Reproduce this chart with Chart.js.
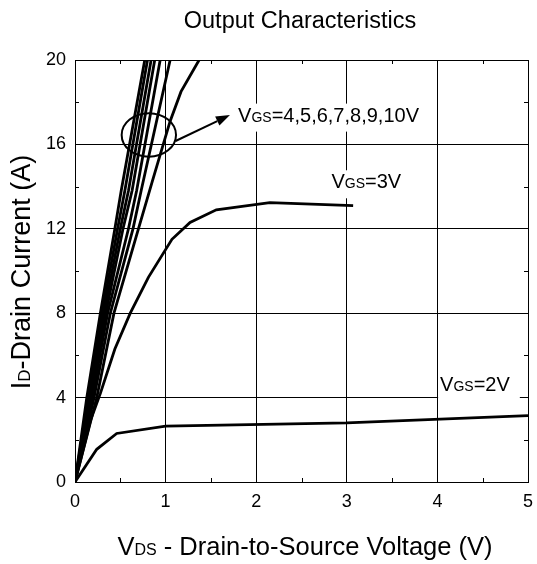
<!DOCTYPE html>
<html><head><meta charset="utf-8">
<script src="https://cdn.jsdelivr.net/npm/chart.js@4"></script>
<style>html,body{margin:0;padding:0;background:#fff}canvas{display:block}</style>
</head><body>
<canvas id="c" width="537" height="564"></canvas>
<script>
// ---- data ----
const xTickValues = [0, 1, 2, 3, 4, 5];
const yTickValues = [0, 4, 8, 12, 16, 20];
const minorX = [0.5, 1.5, 2.5, 3.5, 4.5];
const minorY = [2, 6, 10, 14, 18];

const vds2V = [0, 0.24, 0.46, 1.0, 3.0, 5.0];
const id2V  = [0, 1.55, 2.3, 2.65, 2.8, 3.15];

const vds3V = [0, 0.17, 0.28, 0.44, 0.61, 0.81, 1.07, 1.27, 1.56, 2.15, 3.07];
const id3V  = [0, 2.9, 4.2, 6.3, 8.0, 9.7, 11.5, 12.3, 12.9, 13.24, 13.1];

const vds4V = [0, 0.24, 0.43, 0.70, 0.85, 1.05, 1.17, 1.37];
const id4V  = [0, 4, 8, 12, 14.2, 17.1, 18.5, 20];
const vds5V = [0, 0.21, 0.39, 0.64, 0.73, 1.05];
const id5V  = [0, 4, 8, 12, 13.8, 20];
const vds6V = [0, 0.19, 0.36, 0.59, 0.68, 0.94];
const id6V  = [0, 4, 8, 12, 13.8, 20];
const vds7V = [0, 0.17, 0.34, 0.53, 0.63, 0.88];
const id7V  = [0, 4, 8, 12, 13.8, 20];
const vds8V = [0, 0.16, 0.32, 0.50, 0.59, 0.84];
const id8V  = [0, 4, 8, 12, 13.8, 20];
const vds9V = [0, 0.145, 0.30, 0.47, 0.55, 0.80];
const id9V  = [0, 4, 8, 12, 13.8, 20];
const vds10V = [0, 0.13, 0.28, 0.44, 0.51, 0.77];
const id10V  = [0, 4, 8, 12, 13.8, 20];

const seriesNames = ['VGS=2V','VGS=3V','VGS=4V','VGS=5V','VGS=6V','VGS=7V','VGS=8V','VGS=9V','VGS=10V'];
const seriesX = [vds2V, vds3V, vds4V, vds5V, vds6V, vds7V, vds8V, vds9V, vds10V];
const seriesY = [id2V, id3V, id4V, id5V, id6V, id7V, id8V, id9V, id10V];

const FONT = "'Liberation Sans', Arial, Helvetica, sans-serif";
Chart.defaults.font.family = FONT;
Chart.defaults.color = '#000';

function pts(xs, ys){ return xs.map((v,i)=>({x:v, y:ys[i]})); }

// draw text made of [text, size] runs on a common baseline
function runsWidth(ctx, runs){
  let w = 0;
  for (const [t,s] of runs){ ctx.font = s + 'px ' + FONT; w += ctx.measureText(t).width; }
  return w;
}
function drawRuns(ctx, runs, x, y){
  ctx.textBaseline = 'alphabetic'; ctx.textAlign = 'left';
  for (const [t,s] of runs){ ctx.font = s + 'px ' + FONT; ctx.fillText(t, x, y); x += ctx.measureText(t).width; }
}

const decor = {
  id: 'decor',
  afterDatasetsDraw(chart){
    const ctx = chart.ctx, xs = chart.scales.x, ys = chart.scales.y, ca = chart.chartArea;
    ctx.save();
    ctx.strokeStyle = '#000'; ctx.fillStyle = '#000'; ctx.lineWidth = 1;
    // minor ticks
    ctx.beginPath();
    for (const v of minorX){
      const p = Math.round(xs.getPixelForValue(v)) + 0.5;
      ctx.moveTo(p, ca.bottom); ctx.lineTo(p, ca.bottom - 4);
      ctx.moveTo(p, ca.top); ctx.lineTo(p, ca.top + 4);
    }
    for (const v of minorY){
      const p = Math.round(ys.getPixelForValue(v)) + 0.5;
      ctx.moveTo(ca.left, p); ctx.lineTo(ca.left + 4, p);
      ctx.moveTo(ca.right, p); ctx.lineTo(ca.right - 4, p);
    }
    ctx.stroke();

    // ellipse around the 4..10V bundle
    const cx = xs.getPixelForValue(0.815), cy = ys.getPixelForValue(16.45);
    const rx = xs.getPixelForValue(0.815 + 0.30) - cx, ry = cy - ys.getPixelForValue(16.45 + 1.03);
    ctx.lineWidth = 2;
    ctx.beginPath(); ctx.ellipse(cx, cy, rx, ry, 0, 0, Math.PI*2); ctx.stroke();

    // arrow
    const ax0 = xs.getPixelForValue(1.11), ay0 = ys.getPixelForValue(16.16);
    const ax1 = xs.getPixelForValue(1.71), ay1 = ys.getPixelForValue(17.39);
    const ang = Math.atan2(ay1 - ay0, ax1 - ax0);
    const hl = 14, hw = 5;
    const bx = ax1 - hl*Math.cos(ang), by = ay1 - hl*Math.sin(ang);
    ctx.beginPath(); ctx.moveTo(ax0, ay0); ctx.lineTo(bx, by); ctx.stroke();
    ctx.beginPath();
    ctx.moveTo(ax1, ay1);
    ctx.lineTo(bx + hw*Math.sin(ang), by - hw*Math.cos(ang));
    ctx.lineTo(bx - hw*Math.sin(ang), by + hw*Math.cos(ang));
    ctx.closePath(); ctx.fill();

    // curve labels with white backgrounds
    const labels = [
      {runs:[['V',20],['GS',14],['=4,5,6,7,8,9,10V',20]], x:1.80, y:17.08},
      {runs:[['V',20],['GS',14],['=3V',20]], x:2.83, y:13.92},
      {runs:[['V',20],['GS',14],['=2V',20]], x:4.03, y:4.33}
    ];
    for (const L of labels){
      const px = xs.getPixelForValue(L.x), py = ys.getPixelForValue(L.y);
      const w = runsWidth(ctx, L.runs);
      ctx.fillStyle = '#fff';
      ctx.fillRect(px - 2, py - 18, w + 12, 28);
      ctx.fillStyle = '#000';
      drawRuns(ctx, L.runs, px, py);
    }
    ctx.restore();
  },
  afterDraw(chart){
    const ctx = chart.ctx;
    ctx.save();
    ctx.fillStyle = '#000';
    // title
    const tRuns = [['Output Characteristics', 23.5]];
    drawRuns(ctx, tRuns, 300 - runsWidth(ctx, tRuns)/2, 28);
    // x title
    const xRuns = [['V',25.5],['DS',16],[' - Drain-to-Source Voltage (V)',25.5]];
    drawRuns(ctx, xRuns, 305 - runsWidth(ctx, xRuns)/2, 555);
    // y title
    const yRuns = [['I',27],['D',17],['-Drain Current (A)',27]];
    ctx.translate(29.5, 272);
    ctx.rotate(-Math.PI/2);
    drawRuns(ctx, yRuns, -runsWidth(ctx, yRuns)/2, 0);
    ctx.restore();
  }
};

new Chart(document.getElementById('c'), {
  type: 'line',
  data: {
    datasets: seriesNames.map((n,i)=>({
      label: n,
      data: pts(seriesX[i], seriesY[i]),
      borderColor: '#000',
      backgroundColor: '#000',
      borderWidth: 2.8,
      pointRadius: 0,
      tension: 0,
      fill: false
    }))
  },
  options: {
    responsive: false,
    animation: false,
    layout: { padding: { top: 60, right: 9, left: 0, bottom: 0 } },
    plugins: { legend: { display: false }, title: { display: false }, tooltip: { enabled: false } },
    scales: {
      x: {
        type: 'linear', min: 0, max: 5,
        afterBuildTicks: s => { s.ticks = xTickValues.map(v=>({value:v})); },
        afterFit: s => { s.height = 82; s.paddingLeft = 0; s.paddingRight = 0; },
        ticks: { color: '#000', font: { size: 18 }, padding: 9 },
        grid: { color: '#000', lineWidth: 1, drawTicks: false },
        border: { color: '#000', width: 1 }
      },
      y: {
        type: 'linear', min: 0, max: 20,
        afterBuildTicks: s => { s.ticks = yTickValues.map(v=>({value:v})); },
        afterFit: s => { s.width = 75; s.paddingTop = 0; s.paddingBottom = 0; },
        ticks: { color: '#000', font: { size: 18 }, padding: 9 },
        grid: { color: '#000', lineWidth: 1, drawTicks: false },
        border: { color: '#000', width: 1 }
      }
    }
  },
  plugins: [decor]
});
</script>
</body></html>
